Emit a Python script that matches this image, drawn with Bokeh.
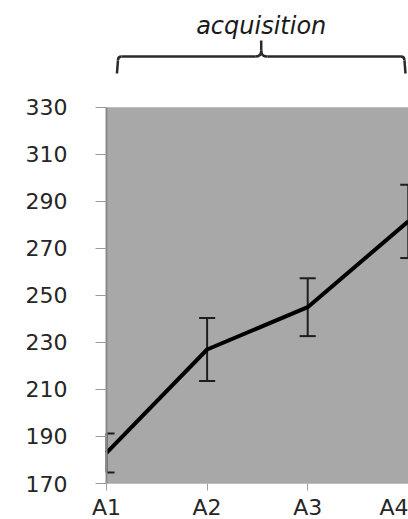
from bokeh.plotting import figure
from bokeh.models import Range1d, FixedTicker, BoxAnnotation
from bokeh.core.properties import value
from bokeh.embed import file_html
from bokeh.resources import INLINE

# data
categories = ["A1", "A2", "A3", "A4"]
means = [183, 227, 245, 281.5]
errors = [8.3, 13.4, 12.3, 15.6]
y_ticks = [170, 190, 210, 230, 250, 270, 290, 310, 330]
group_label = "acquisition"

xs = list(range(1, len(categories) + 1))
upper = [m + e for m, e in zip(means, errors)]
lower = [m - e for m, e in zip(means, errors)]

y_min, y_max = y_ticks[0], y_ticks[-1]
x_first, x_end = xs[0], 4.002

p = figure(width=408, height=519, output_backend="svg", toolbar_location=None,
           x_range=Range1d(-0.0537, x_end), y_range=Range1d(154.69, 375.44),
           min_border_left=0, min_border_right=0, min_border_top=0, min_border_bottom=0)
p.outline_line_color = None
p.xgrid.visible = False
p.ygrid.visible = False
p.background_fill_color = "white"
p.border_fill_color = "white"

# gray plot area
p.add_layout(BoxAnnotation(left=x_first, bottom=y_min, top=y_max, fill_color="#a8a8a8",
                           fill_alpha=1, line_color=None, level="underlay"))

# y axis (pinned at the first category)
ya = p.yaxis[0]
ya.fixed_location = x_first
ya.ticker = FixedTicker(ticks=y_ticks)
ya.bounds = (y_min, y_max)
ya.axis_line_color = "#8a8a8a"
ya.axis_line_width = 2
ya.major_tick_line_color = "#9a9a9a"
ya.major_tick_out = 11
ya.major_tick_in = 0
ya.minor_tick_line_color = None
ya.major_label_standoff = 28
ya.major_label_text_font = "DejaVu Sans"
ya.major_label_text_font_size = "22px"
ya.major_label_text_color = "#262626"

# x axis (pinned at the bottom value)
xa = p.xaxis[0]
xa.fixed_location = y_min
xa.ticker = FixedTicker(ticks=xs)
xa.major_label_overrides = {x: c for x, c in zip(xs, categories)}
xa.bounds = (x_first, x_end)
xa.axis_line_color = "#bdbdbd"
xa.axis_line_width = 1
xa.major_tick_line_color = "#a0a0a0"
xa.major_tick_out = 7
xa.major_tick_in = 0
xa.minor_tick_line_color = None
xa.major_label_standoff = 4
xa.major_label_text_font = "DejaVu Sans"
xa.major_label_text_font_size = "22px"
xa.major_label_text_color = "#262626"

# error bars (caps cut at the plot-area edge)
cap_hw = 0.08
cap_x0 = [max(x - cap_hw, x_first) for x in xs]
cap_x1 = [x + cap_hw for x in xs]
p.segment(x0=xs, y0=lower, x1=xs, y1=upper, line_color="#1e1e1e", line_width=2)
p.segment(x0=cap_x0 + cap_x0, y0=upper + lower, x1=cap_x1 + cap_x1, y1=upper + lower,
          line_color="#1e1e1e", line_width=2)

# mean line
p.line(x=xs, y=means, line_color="black", line_width=4)

# brace over the acquisition phase
bl, br = 1.114, 3.962
bm = (bl + br) / 2
y_end, y_bar, y_tip = 344.4, 351.6, 358.4
dx = 0.035
dy = 1.6
brace_col = "#2a2a2a"
p.line(x=[bl - 0.01, bl], y=[y_end, y_bar - dy], line_color=brace_col, line_width=2.5)
p.quadratic(x0=[bl], y0=[y_bar - dy], cx=[bl], cy=[y_bar], x1=[bl + dx], y1=[y_bar],
            line_color=brace_col, line_width=2.5)
p.line(x=[br + 0.01, br], y=[y_end, y_bar - dy], line_color=brace_col, line_width=2.5)
p.quadratic(x0=[br], y0=[y_bar - dy], cx=[br], cy=[y_bar], x1=[br - dx], y1=[y_bar],
            line_color=brace_col, line_width=2.5)
p.line(x=[bl + dx, bm - 0.06], y=[y_bar, y_bar], line_color=brace_col, line_width=2.5)
p.line(x=[bm + 0.06, br - dx], y=[y_bar, y_bar], line_color=brace_col, line_width=2.5)
p.quadratic(x0=[bm - 0.06, bm + 0.06], y0=[y_bar, y_bar], cx=[bm, bm], cy=[y_bar, y_bar],
            x1=[bm, bm], y1=[y_bar + 2.5, y_bar + 2.5], line_color=brace_col, line_width=2.5)
p.line(x=[bm, bm], y=[y_bar + 2.5, y_tip], line_color=brace_col, line_width=2.5)

p.text(x=[bm], y=[364.4], text=[group_label], text_font=value("DejaVu Sans"),
       text_font_style="italic", text_font_size="24px", text_color="#1a1a1a",
       text_align="center", text_baseline="alphabetic")

open("out.html", "w").write(file_html(p, INLINE))
